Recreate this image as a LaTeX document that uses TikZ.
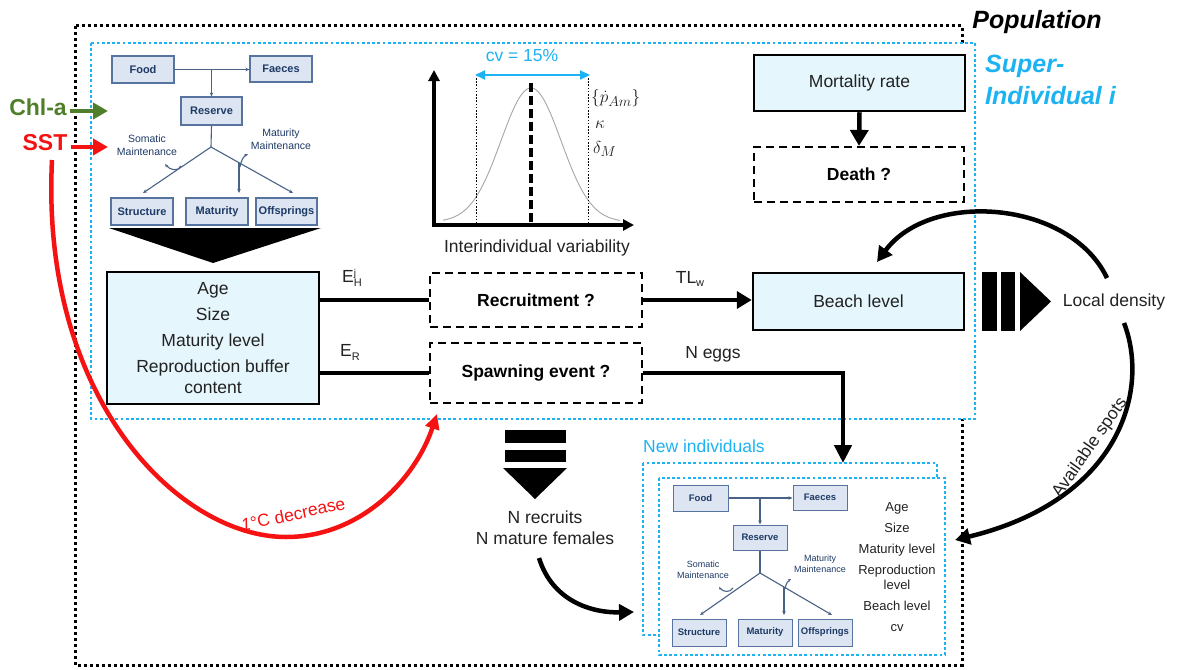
\documentclass[tikz,border=0pt]{standalone}
\usepackage{fontspec}
\setmainfont{Liberation Sans}
\usetikzlibrary{arrows.meta,calc}
\definecolor{sky}{HTML}{1DB2F2}
\definecolor{chlgreen}{HTML}{4F7F2B}
\definecolor{sstred}{HTML}{F51212}
\definecolor{lightbox}{HTML}{E5F6FD}
\definecolor{debfill}{HTML}{DCE5F1}
\definecolor{debedge}{HTML}{56749F}
\definecolor{debtext}{HTML}{1E3A66}
\definecolor{maintext}{HTML}{222222}
\newcommand\fsA{\fontsize{17.5}{21}\selectfont}
\newcommand\fsB{\fontsize{25}{30}\selectfont}
\newcommand\fsS{\fontsize{11}{13}\selectfont}
\newcommand\fsR{\fontsize{10.5}{12.5}\selectfont}
\newcommand\fsT{\fontsize{9.5}{11}\selectfont}
\newcommand\fsU{\fontsize{9}{11}\selectfont}
\newcommand\fsM{\fontsize{13}{21}\selectfont}
\newcommand\fsG{\fontsize{19}{22}\selectfont}
\begin{document}
\begin{tikzpicture}[x=1pt,y=-1pt,
  popline/.style={draw=black,line width=3pt,dash pattern=on 3pt off 3pt},
  supline/.style={draw=sky,line width=2.8pt,dash pattern=on 2.8pt off 2.4pt},
  solidbox/.style={draw=black,line width=2.5pt,fill=lightbox,text=maintext,font=\fsA,inner sep=0pt},
  dashbox/.style={draw=black,line width=2.2pt,dash pattern=on 8pt off 5pt,text=black,font=\fsA\bfseries,inner sep=0pt},
  debbox/.style={draw=debedge,fill=debfill,line width=1.2pt,text=debtext,font=\fsS\bfseries,inner sep=0pt},
  debboxs/.style={debbox,font=\fsT\bfseries,line width=1pt},
  deblink/.style={draw=debedge!85!black,line width=1.1pt},
  debarrow/.style={deblink,-{Stealth[length=4pt,width=3.5pt]}},
  debtxt/.style={text=debtext,font=\fsR,align=center,inner sep=0pt},
  conn/.style={line width=4.5pt},
  bigtip/.style={-{Triangle[length=15pt,width=17pt]}},
  lbl/.style={text=maintext,font=\fsA,inner sep=0pt},
]
\useasboundingbox (0,0) rectangle (1180,669);

% containers
\draw[popline] (75,26) rectangle (962,665);
\draw[supline,fill=white] (91,43) rectangle (975,419);
\node[font=\fsB\bfseries\itshape,text=black,inner sep=0pt] (poplabel) at (1037,22) {Population};
\node[font=\fsB\bfseries\itshape,text=sky,anchor=west,inner sep=0pt] (suplabel1) at (985,66) {Super-};
\node[font=\fsB\bfseries\itshape,text=sky,anchor=west,inner sep=0pt] (suplabel2) at (985,96) {Individual i};

% forcing
\node[font=\fontsize{23}{26}\selectfont\bfseries,text=chlgreen,inner sep=0pt] (chl) at (38,107) {Chl-a};
\node[font=\fontsize{23}{26}\selectfont\bfseries,text=sstred,inner sep=0pt] (sst) at (45,143) {SST};
\coordinate (chlend) at (108,111);
\coordinate (sstend) at (108,147);
\draw[chlgreen,line width=4.5pt,-{Triangle[length=15pt,width=16pt]}] (chl.east |- chlend) ++(3,0) -- (chlend);
\draw[sstred,line width=4.5pt,-{Triangle[length=15pt,width=16pt]}] (sst.east |- sstend) ++(3,0) -- (sstend);

% top-left DEB scheme
\node[debbox,minimum width=62pt,minimum height=27pt] (food) at (143,69.5) {Food};
\node[debbox,minimum width=62pt,minimum height=26pt] (faeces) at (281,69) {Faeces};
\node[debbox,minimum width=61pt,minimum height=28pt] (reserve) at (211.5,111) {Reserve};
\node[debbox,minimum width=62pt,minimum height=27pt] (structure) at (142,211.5) {Structure};
\node[debbox,minimum width=62pt,minimum height=27pt] (maturity) at (217,211.5) {Maturity};
\node[debbox,minimum width=61pt,minimum height=27pt] (offsprings) at (286.5,211.5) {Offsprings};
\draw[debarrow] (food.east) -- (food.east -| faeces.west);
\draw[debarrow] (reserve.north |- food.east) -- (reserve.north);
\coordinate (junc) at (211,147);
\draw[deblink] (reserve.south) -- (junc);
\draw[debarrow] (junc) -- (143,193);
\draw[debarrow] (junc) -- (293,193);
\draw[debarrow] (239,162.7) -- (239,193);
\draw[deblink,-{Stealth[length=3.5pt,width=3pt]}] (181,166) .. controls (178,172) and (170,170) .. (165,164);
\draw[deblink,-{Stealth[length=3.5pt,width=3pt]}] (240,167) .. controls (241,160) and (244,156) .. (248,154);
\node[debtxt] (somatic) at (147,145) {Somatic\\Maintenance};
\node[debtxt] (matmaint) at (281,139) {Maturity\\Maintenance};
\fill[black] (109,228) -- (321,228) -- (213,263) -- cycle;

% state box
\node[solidbox,minimum width=212pt,minimum height=132pt,align=center,font=\fontsize{17.5}{26}\selectfont] (state) at (213,338)
  {Age\\Size\\Maturity level\\Reproduction buffer\\[-5pt]content};

% decision boxes
\node[dashbox,minimum width=212pt,minimum height=54pt] (recruit) at (536,300) {Recruitment ?};
\node[dashbox,minimum width=212pt,minimum height=60pt] (spawn) at (536,373) {Spawning event ?};
\draw[conn] (recruit.west -| state.east) -- (recruit.west);
\draw[conn] (spawn.west -| state.east) -- (spawn.west);
\node[lbl] (eh) at (352,278) {E\rlap{\raisebox{6pt}{\fontsize{10}{10}\selectfont j}}\raisebox{-4pt}{\fontsize{11}{11}\selectfont H}};
\node[lbl] (er) at (350,352) {E\raisebox{-4pt}{\fontsize{11}{11}\selectfont R}};

% beach level
\node[solidbox,minimum width=211pt,minimum height=57pt] (beach) at (858.5,301.5) {Beach level};
\draw[conn,bigtip] (recruit.east) -- (recruit.east -| beach.west);
\node[lbl] (tlw) at (690,279) {TL\raisebox{-3pt}{\fontsize{11}{11}\selectfont w}};

% mortality
\node[solidbox,minimum width=211pt,minimum height=56pt] (mort) at (859.5,83) {Mortality rate};
\node[dashbox,minimum width=210pt,minimum height=55pt] (death) at (859,174.5) {Death ?};
\draw[conn,-{Triangle[length=16pt,width=18pt]}] (mort.south) -- (death.north);

% variability plot
\coordinate (origin) at (434,225);
\coordinate (ytop) at (434,70);
\coordinate (xright) at (634,225);
\draw[line width=3.5pt,line join=miter,{Triangle[length=11pt,width=11pt]}-{Triangle[length=11pt,width=11pt]}] (ytop) -- (origin) -- (xright);
\draw[gray!70,line width=0.9pt] plot[domain=443:620,samples=90] (\x,{222-134*exp(-((\x-531)*(\x-531))/1800)});
\draw[black,line width=0.9pt,dash pattern=on 1.6pt off 1.6pt] (476,78) -- (476,223);
\draw[black,line width=0.9pt,dash pattern=on 1.6pt off 1.6pt] (588,78) -- (588,223);
\draw[black,line width=3.2pt,dash pattern=on 9pt off 4pt] (531,83) -- (531,223);
\coordinate (cvl) at (475,75);
\coordinate (cvr) at (590,75);
\draw[sky,line width=2pt,{Triangle[length=10pt,width=9pt]}-{Triangle[length=10pt,width=9pt]}] (cvl) -- (cvr);
\node[text=sky,font=\fsA,inner sep=0pt] (cv) at (522,56) {cv = 15\%};
\node[anchor=west,inner sep=0pt,text=maintext,font=\fsG] (pam) at (591,98) {$\{\dot p_{Am}\}$};
\node[anchor=west,inner sep=0pt,text=maintext,font=\fsG] (kap) at (595,125) {$\kappa$};
\node[anchor=west,inner sep=0pt,text=maintext,font=\fsG] (delt) at (593,149) {$\delta_M$};
\node[lbl] (ivar) at (537,248) {Interindividual variability};

% local density
\fill[black] (982,272) rectangle (997,331);
\fill[black] (1001,272) rectangle (1015,331);
\fill[black] (1020,272) -- (1051,301.5) -- (1020,331) -- cycle;
\node[lbl] (ld) at (1114,302) {Local density};
\coordinate (ldtop) at (1107,278);
\coordinate (beachtop) at (877,262);
\draw[line width=4.5pt,-{Triangle[length=15pt,width=16pt]}] (ldtop) .. controls (1070,200) and (930,190) .. (beachtop);
\coordinate (ldbot) at (1124,323);
\coordinate (newright) at (955,540);
\draw[line width=4.5pt,-{Triangle[length=15pt,width=16pt]}] (ldbot) .. controls (1150,390) and (1120,500) .. (newright);
\node[lbl,rotate=55] (avail) at (1090,448) {Available spots};

% new individuals
\node[text=sky,font=\fsA,anchor=west,inner sep=0pt] (newlabel) at (643,446) {New individuals};
\draw[supline] (643,463) rectangle (937,635);
\draw[supline,fill=white] (659,478) rectangle (945,655);
\coordinate (newtop) at (843,463);
\node[lbl] (neggs) at (713,354) {N eggs};
\coordinate (eggx) at (843,0);
\draw[conn,line join=miter,-{Triangle[length=18pt,width=17pt]}] (spawn.east) -| (eggx |- newtop);

\node[debboxs,minimum width=55pt,minimum height=26pt] (food2) at (700.5,498) {Food};
\node[debboxs,minimum width=54pt,minimum height=25pt] (faeces2) at (820,497.5) {Faeces};
\node[debboxs,minimum width=54pt,minimum height=25pt] (reserve2) at (760,537.5) {Reserve};
\node[debboxs,minimum width=54pt,minimum height=27pt] (structure2) at (699,632.5) {Structure};
\node[debboxs,minimum width=54pt,minimum height=27pt] (maturity2) at (765,632.5) {Maturity};
\node[debboxs,minimum width=54pt,minimum height=27pt] (offsprings2) at (825,632.5) {Offsprings};
\draw[debarrow] (food2.east) -- (food2.east -| faeces2.west);
\draw[debarrow] (reserve2.north |- food2.east) -- (reserve2.north);
\coordinate (junc2) at (760,573);
\draw[deblink] (reserve2.south) -- (junc2);
\draw[debarrow] (junc2) -- (700,615);
\draw[debarrow] (junc2) -- (832,615);
\draw[debarrow] (784,587.4) -- (784,615);
\draw[deblink,-{Stealth[length=3pt,width=2.6pt]}] (733,588) .. controls (730,593) and (723,592) .. (719,587);
\draw[deblink,-{Stealth[length=3pt,width=2.6pt]}] (785,589) .. controls (786,583) and (788,581) .. (791,579);
\node[debtxt,font=\fsU] (somatic2) at (703,569.5) {Somatic\\Maintenance};
\node[debtxt,font=\fsU] (matmaint2) at (820,564) {Maturity\\Maintenance};
\node[text=maintext,font=\fsM,align=center,inner sep=0pt] (newstate) at (897,567)
  {Age\\Size\\Maturity level\\Reproduction\\[-6pt]level\\Beach level\\cv};

% recruits
\fill[black] (505,430) rectangle (566,443);
\fill[black] (505,450) rectangle (566,462);
\fill[black] (503,468) -- (567,468) -- (535,499) -- cycle;
\node[lbl,align=center,font=\fsA] (nrec) at (545,528) {N recruits\\N mature females};
\coordinate (nrecbot) at (539,558);
\coordinate (newleft) at (634,612);
\draw[line width=4.5pt,-{Triangle[length=15pt,width=16pt]}] (nrecbot) .. controls (552,600) and (590,613) .. (newleft);

% temperature scenario
\coordinate (sststart) at (52,160);
\coordinate (sstlow) at (286,537);
\coordinate (spawnhit) at (437,414);
\draw[sstred,line width=4.5pt,-{Triangle[length=15pt,width=14pt]}] (sststart) .. controls (40,400) and (180,537) .. (sstlow) .. controls (360,537) and (415,480) .. (spawnhit);
\node[text=sstred,font=\fsA,inner sep=0pt,rotate=12] (decr) at (293,514) {\textit{1}°C decrease};
\end{tikzpicture}
\end{document}
